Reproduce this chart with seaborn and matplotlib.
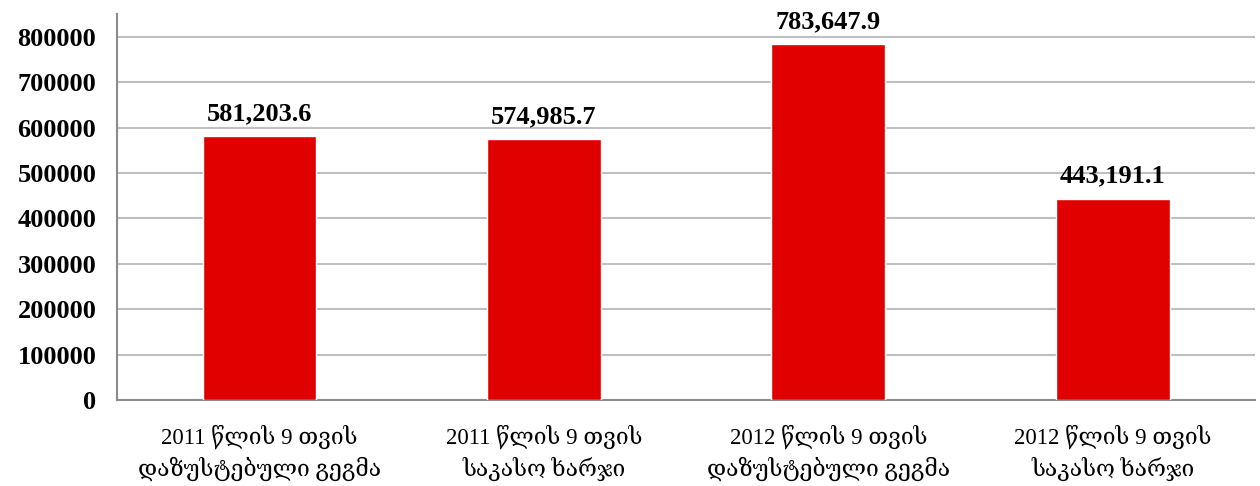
import numpy as np
import pandas as pd
import matplotlib
matplotlib.use('Agg')
import matplotlib.pyplot as plt
import seaborn as sns
from matplotlib.ticker import FixedLocator

# data
categories = [
    '2011 წლის 9 თვის\nდაზუსტებული გეგმა',
    '2011 წლის 9 თვის\nსაკასო ხარჯი',
    '2012 წლის 9 თვის\nდაზუსტებული გეგმა',
    '2012 წლის 9 თვის\nსაკასო ხარჯი',
]
values = [581203.6, 574985.7, 783647.9, 443191.1]
yticks = [0, 100000, 200000, 300000, 400000, 500000, 600000, 700000, 800000]

df = pd.DataFrame({'category': categories, 'value': values})

sns.set_style('white')
plt.rcParams['font.family'] = ['Liberation Serif', 'DejaVu Serif', 'DejaVu Sans']
plt.rcParams['text.color'] = 'black'
plt.rcParams['xtick.labelcolor'] = 'black'
plt.rcParams['ytick.labelcolor'] = 'black'

fig = plt.figure(figsize=(12.6, 4.86), dpi=100)
ax = fig.add_axes([0.093, 0.177, 0.903, 0.794])

sns.barplot(data=df, x='category', y='value', color='#E00000', width=0.4,
            saturation=1, ax=ax, zorder=3)

ax.set_ylim(0, 850000)
ax.set_xlim(-0.5, 3.5)
ax.set_yticks(yticks)
ax.set_yticklabels([str(t) for t in yticks], fontsize=19, fontweight='bold')
ax.set_xlabel('')
ax.set_ylabel('')

# grid lines
ax.grid(axis='y', color='#BFBFBF', linewidth=1.5, zorder=0)
ax.set_axisbelow(True)

# spines
for s in ['top', 'right']:
    ax.spines[s].set_visible(False)
for s in ['left', 'bottom']:
    ax.spines[s].set_color('#8C8C8C')
    ax.spines[s].set_linewidth(1.5)

# x ticks: labels at centres, tick marks at category boundaries
ax.tick_params(axis='x', which='major', length=0, labelsize=16.5, pad=18)
ax.xaxis.set_minor_locator(FixedLocator(np.arange(-0.5, 4, 1)))
ax.tick_params(axis='x', which='minor', length=8, width=1.5, color='#8C8C8C')
ax.tick_params(axis='y', length=8, width=1.5, color='#8C8C8C', pad=7)
for lab in ax.get_xticklabels():
    lab.set_linespacing(1.4)

# value labels
labels = [f'{v:,.1f}' for v in values]
ax.bar_label(ax.containers[0], labels=labels, padding=8, fontsize=19,
             fontweight='bold', color='black')

fig.savefig('out.png', dpi=100)
